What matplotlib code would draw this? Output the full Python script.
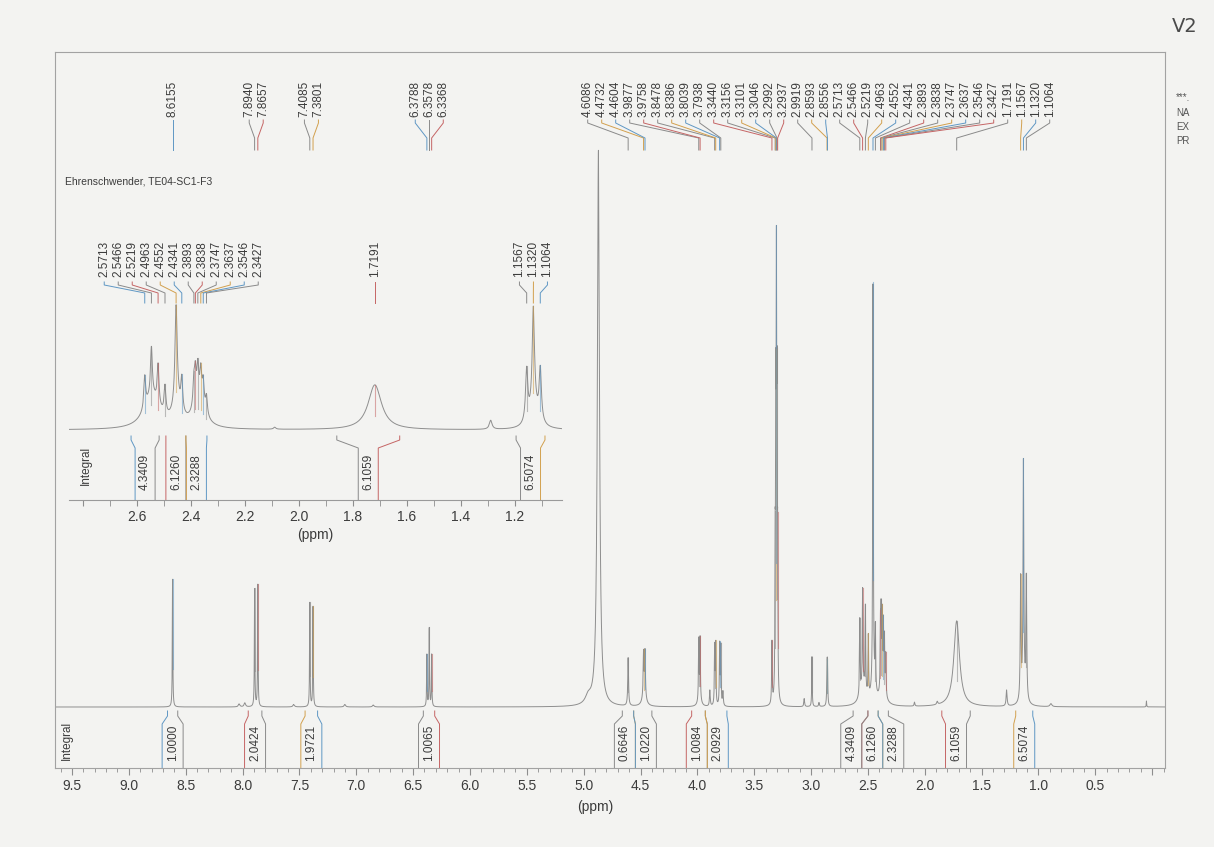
import numpy as np
import matplotlib.pyplot as plt
from matplotlib.ticker import MultipleLocator, FuncFormatter

# ---------- PAGE ----------
W, H, DPI = 1214, 847, 100
PAPER = '#f3f3f1'
INK = '#3c3c3c'
LINE = '#8e8e8e'
PALETTE = ['#5f97c4', '#8a8a8a', '#c56565', '#8a8a8a', '#d2a04e']

# ---------- MAIN SPECTRUM: peaks (ppm, height, half width) ----------
main_ppm = [8.6155, 7.8940, 7.8657, 7.4085, 7.3801, 6.3788, 6.3578, 6.3368,
            8.03, 7.98, 7.55, 7.10, 6.85,
            4.96, 4.87, 4.6086, 4.4732, 4.4604, 4.467,
            3.9877, 3.9758, 3.98, 3.89, 3.8478, 3.8386, 3.8039, 3.7938, 3.775,
            3.3440, 3.3156, 3.3101, 3.3046, 3.2992, 3.2937,
            3.06, 2.9919, 2.93, 2.8593, 2.8556,
            2.5713, 2.5466, 2.5219, 2.4963, 2.4552, 2.4341,
            2.3893, 2.3838, 2.3747, 2.3637, 2.3546, 2.3427,
            2.545, 2.45, 2.37,
            2.09, 1.89, 1.7191, 1.28, 1.1567, 1.1320, 1.1064, 1.13, 0.89, 0.05]
main_height = [128, 118, 122, 104, 100, 52, 78, 52,
               3, 4, 2.5, 2.5, 2,
               8, 556, 48, 44, 45, 10,
               60, 60, 8, 16, 58, 60, 60, 58, 14,
               62, 125, 255, 380, 255, 125,
               8, 50, 4, 34, 34,
               75, 95, 85, 60, 400, 60,
               62, 68, 68, 60, 50, 40,
               20, 20, 18,
               4, 3, 86, 16, 120, 225, 120, 18, 3, 6]
main_hwhm = [0.0025] * 8 + [0.008] * 5 + \
            [0.03, 0.011, 0.004, 0.004, 0.004, 0.02] + \
            [0.003, 0.003, 0.015, 0.004, 0.003, 0.003, 0.003, 0.003, 0.004] + \
            [0.003] + [0.0025] * 5 + \
            [0.004, 0.0025, 0.004, 0.003, 0.003] + \
            [0.003] * 12 + [0.03, 0.02, 0.025] + \
            [0.004, 0.006, 0.03, 0.005, 0.004, 0.004, 0.004, 0.02, 0.01, 0.002]

main_labels = ['8.6155', '7.8940', '7.8657', '7.4085', '7.3801',
               '6.3788', '6.3578', '6.3368',
               '4.6086', '4.4732', '4.4604', '3.9877', '3.9758', '3.8478',
               '3.8386', '3.8039', '3.7938', '3.3440', '3.3156', '3.3101',
               '3.3046', '3.2992', '3.2937',
               '2.9919', '2.8593', '2.8556',
               '2.5713', '2.5466', '2.5219', '2.4963', '2.4552', '2.4341',
               '2.3893', '2.3838', '2.3747', '2.3637', '2.3546', '2.3427',
               '1.7191', '1.1567', '1.1320', '1.1064']

main_int_values = ['1.0000', '2.0424', '1.9721', '1.0065', '0.6646', '1.0220',
                   '1.0084', '2.0929', '4.3409', '6.1260', '2.3288', '6.1059',
                   '6.5074']
main_int_hi = [8.66, 7.95, 7.45, 6.41, 4.66, 4.56, 4.05, 3.93, 2.63, 2.50, 2.41, 1.85, 1.20]
main_int_lo = [8.57, 7.83, 7.34, 6.31, 4.56, 4.40, 3.93, 3.74, 2.50, 2.41, 2.32, 1.60, 1.05]

# ---------- INSET (2.8 - 1.0 ppm) ----------
inset_ppm = [2.5713, 2.5466, 2.5219, 2.4963, 2.4552, 2.4341,
             2.3893, 2.3838, 2.3747, 2.3637, 2.3546, 2.3427,
             2.545, 2.45, 2.37, 2.09, 1.7191, 1.29,
             1.1567, 1.1320, 1.1064, 1.13]
inset_height = [32, 48, 40, 28, 100, 32,
                25, 30, 32, 30, 25, 18,
                32, 18, 26, 2, 45, 9,
                52, 100, 52, 20]
inset_hwhm = [0.004] * 4 + [0.005, 0.004] + [0.004] * 6 + \
             [0.035, 0.02, 0.025, 0.005, 0.03, 0.006] + \
             [0.005, 0.005, 0.005, 0.02]

inset_labels = ['2.5713', '2.5466', '2.5219', '2.4963', '2.4552', '2.4341',
                '2.3893', '2.3838', '2.3747', '2.3637', '2.3546', '2.3427',
                '1.7191', '1.1567', '1.1320', '1.1064']

inset_int_values = ['4.3409', '6.1260', '2.3288', '6.1059', '6.5074']
inset_int_hi = [2.622, 2.493, 2.419, 1.86, 1.196]
inset_int_lo = [2.518, 2.419, 2.341, 1.627, 1.089]

SAMPLE = 'Ehrenschwender, TE04-SC1-F3'
SIDE_TEXT = ['***.', 'NA', 'EX', 'PR']   # parameter block, cut by the page edge


def px_rect(x0, y0, x1, y1):
    return [x0 / W, 1 - y1 / H, (x1 - x0) / W, (y1 - y0) / H]


def lorentz_sum(x, ppm, height, hwhm):
    y = np.zeros_like(x)
    for p, h, w in zip(ppm, height, hwhm):
        y += h * w ** 2 / (w ** 2 + (x - p) ** 2)
    return y


def spread(pos, gap):
    """Least-squares placement with minimum spacing (pool adjacent violators).
    pos increases left to right."""
    order = np.argsort(pos)
    p = np.asarray(pos, float)[order]
    z = p - gap * np.arange(len(p))
    blocks = []
    for v in z:
        blocks.append([v, 1])
        while len(blocks) > 1 and blocks[-2][0] / blocks[-2][1] > blocks[-1][0] / blocks[-1][1]:
            s, c = blocks.pop()
            blocks[-1][0] += s
            blocks[-1][1] += c
    fit = np.concatenate([[s / c] * c for s, c in blocks])
    out = np.empty_like(p)
    out[order] = fit + gap * np.arange(len(p))
    return out


def draw_peak_labels(ax, labels, spec, gap, y_text, y_a, y_b, y_c, fs):
    peaks = np.array([float(s) for s in labels])
    lab = -spread(-peaks, gap)
    for i, (s, p, q) in enumerate(zip(labels, peaks, lab)):
        col = PALETTE[i % len(PALETTE)]
        ax.plot([q, q, p, p], [y_a + 3, y_a, y_b, y_c], color=col, lw=0.7,
                clip_on=False)
        ax.text(q, y_text, s, rotation=90, ha='center', va='bottom',
                fontsize=fs, color=INK, clip_on=False)
        # coloured overlay on the picked line
        top = spec(p)
        ax.plot([p, p], [top * 0.3, top], color=col, lw=0.8, alpha=0.55)


def draw_integrals(ax, values, hi, lo, box_w, y0, y1, y2, ybot, ytext, fs):
    mid = (np.array(hi) + np.array(lo)) / 2
    cen = -spread(-mid, box_w)
    for i, (v, a, b, c) in enumerate(zip(values, hi, lo, cen)):
        ax.plot([a, a, c + box_w / 2, c + box_w / 2], [y0, y1, y2, ybot],
                color=PALETTE[(2 * i) % len(PALETTE)], lw=0.7)
        ax.plot([b, b, c - box_w / 2, c - box_w / 2], [y0, y1, y2, ybot],
                color=PALETTE[(2 * i + 1) % len(PALETTE)], lw=0.7)
        ax.text(c, ytext, v, rotation=90, ha='center', va='center',
                fontsize=fs, color=INK)


def tick_fmt(lo, hi):
    return FuncFormatter(lambda v, pos: f'{v:.1f}' if lo < v < hi else '')


plt.rcParams['font.family'] = ['Liberation Sans', 'DejaVu Sans']
fig = plt.figure(figsize=(W / DPI, H / DPI), dpi=DPI, facecolor=PAPER)

# ---------- main axes ----------
ppm_per_px = 1 / 113.7
x_left, x_right = 9.5 + 17 * ppm_per_px, 9.5 - 1093 * ppm_per_px
ax = fig.add_axes(px_rect(55, 52, 1165, 768))
ax.set_facecolor('none')
ax.set_xlim(x_left, x_right)
ax.set_ylim(-61, 655)

xs = np.arange(x_right, x_left, 0.0004)
ys = lorentz_sum(xs, main_ppm, main_height, main_hwhm)
ax.plot(xs, ys, color=LINE, lw=0.7)
main_spec = lambda p: lorentz_sum(np.array([p]), main_ppm, main_height, main_hwhm)[0]

draw_peak_labels(ax, main_labels, main_spec, 14 * ppm_per_px,
                 y_text=590, y_a=584, y_b=569, y_c=557, fs=8.5)
draw_integrals(ax, main_int_values, main_int_hi, main_int_lo, 21 * ppm_per_px,
               y0=-4, y1=-9, y2=-17, ybot=-61, ytext=-36, fs=8.5)
ax.text(9.545, -33, 'Integral', rotation=90, ha='center', va='center',
        fontsize=8.5, color=INK)

ax.xaxis.set_major_locator(MultipleLocator(0.5))
ax.xaxis.set_minor_locator(MultipleLocator(0.1))
ax.xaxis.set_major_formatter(tick_fmt(0.25, 9.6))
ax.set_yticks([])
ax.tick_params(axis='x', which='major', length=5, color=LINE, labelsize=10,
               labelcolor=INK, pad=3)
ax.tick_params(axis='x', which='minor', length=3, color=LINE)
for sp in ax.spines.values():
    sp.set_color('#a2a2a2')
    sp.set_linewidth(0.8)
ax.set_xlabel('(ppm)', fontsize=10, color=INK, labelpad=4)
ax.xaxis.set_label_coords((595 - 55) / 1110, -0.045)

# ---------- inset ----------
ippm_per_px = 1 / 270
i_left, i_right = 2.6 + 68 * ippm_per_px, 2.6 - 425 * ippm_per_px
ax2 = fig.add_axes(px_rect(69, 170, 562, 500))
ax2.set_facecolor('none')
ax2.set_xlim(i_left, i_right)
ax2.set_ylim(-70, 260)
xi = np.arange(i_right, i_left, 0.0004)
yi = lorentz_sum(xi, inset_ppm, inset_height, inset_hwhm)
ax2.plot(xi, yi, color=LINE, lw=0.7)
inset_spec = lambda p: lorentz_sum(np.array([p]), inset_ppm, inset_height, inset_hwhm)[0]

draw_peak_labels(ax2, inset_labels, inset_spec, 14 * ippm_per_px,
                 y_text=153, y_a=145, y_b=137, y_c=127, fs=8.5)
draw_integrals(ax2, inset_int_values, inset_int_hi, inset_int_lo, 20 * ippm_per_px,
               y0=-6, y1=-10, y2=-18, ybot=-70, ytext=-42, fs=8.5)
ax2.text(i_left - 17 * ippm_per_px, -35, 'Integral', rotation=90, ha='center',
         va='center', fontsize=8.5, color=INK)

ax2.xaxis.set_major_locator(MultipleLocator(0.2))
ax2.xaxis.set_minor_locator(MultipleLocator(0.1))
ax2.xaxis.set_major_formatter(tick_fmt(1.1, 2.7))
ax2.set_yticks([])
ax2.tick_params(axis='x', which='major', length=4, color=LINE, labelsize=10,
                labelcolor=INK, pad=3)
ax2.tick_params(axis='x', which='minor', length=4, color=LINE)
for name, sp in ax2.spines.items():
    sp.set_visible(name == 'bottom')
    sp.set_color('#9a9a9a')
    sp.set_linewidth(0.8)
ax2.set_xlabel('(ppm)', fontsize=10, color=INK, labelpad=3)

# ---------- page texts ----------
fig.text(65 / W, 1 - 182 / H, SAMPLE, fontsize=7.5, color=INK,
         ha='left', va='center')
fig.text(1172 / W, 1 - 27 / H, 'V2', fontsize=14, color='#4a4a4a',
         ha='left', va='center', family='DejaVu Sans')
for k, s in enumerate(SIDE_TEXT):
    fig.text(1176 / W, 1 - (98 + 14.5 * k) / H, s, fontsize=7,
             color='#555555', ha='left', va='center')

fig.savefig('out.png', dpi=DPI, facecolor=PAPER)
